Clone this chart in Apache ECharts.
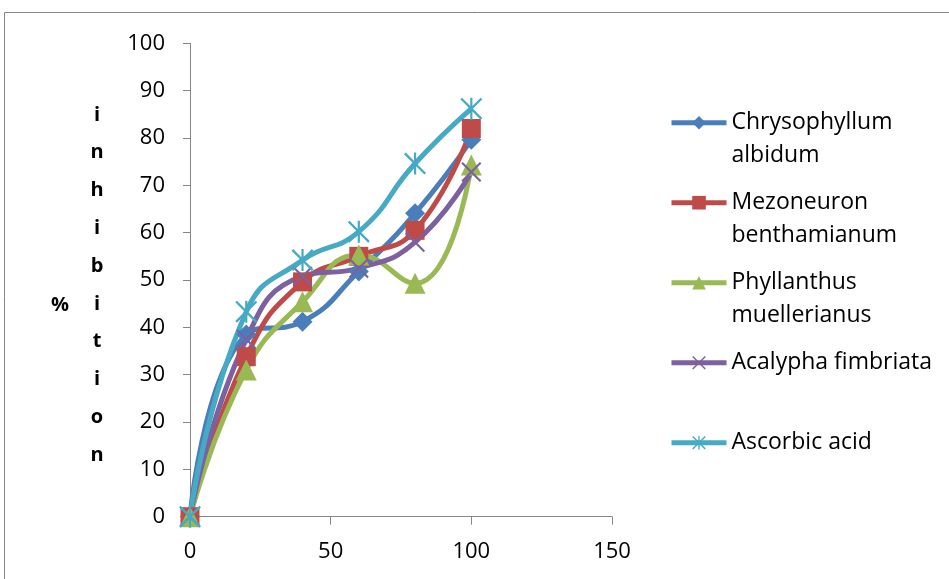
<!DOCTYPE html>
<html>
<head>
<meta charset="utf-8">
<script src="https://cdn.jsdelivr.net/npm/echarts@6/dist/echarts.min.js"></script>
<style>
html,body{margin:0;padding:0;background:#fff;}
#chart{width:949px;height:579px;}
</style>
</head>
<body>
<div id="chart"></div>
<script>
// ---- data ----
const concentrations = [0, 20, 40, 60, 80, 100];
const seriesNames = ['Chrysophyllum albidum', 'Mezoneuron benthamianum', 'Phyllanthus muellerianus', 'Acalypha fimbriata', 'Ascorbic acid'];
const legendLabels = [' \nChrysophyllum\nalbidum', ' \nMezoneuron\nbenthamianum', ' \nPhyllanthus\nmuellerianus', ' \nAcalypha fimbriata\n ', ' \nAscorbic acid\n '];
const chrysophyllum = [0, 38.5, 41.2, 51.8, 64.1, 79.6];
const mezoneuron = [0, 33.8, 49.6, 55.0, 60.5, 82.0];
const phyllanthus = [0, 31.0, 45.4, 55.3, 49.3, 74.3];
const acalypha = [0, 37.5, 50.8, 52.5, 58.0, 72.8];
const ascorbic = [0, 43.3, 54.2, 60.2, 74.6, 86.2];
const xTicks = [0, 50, 100, 150];
const yTicks = [0, 10, 20, 30, 40, 50, 60, 70, 80, 90, 100];
const yTitleLetters = ['i','n','h','i','b','i','t','i','o','n'];

const colors = ['#4a7ebb', '#be4b48', '#98b954', '#7d60a0', '#46aac5'];
const xPath = 'path://M0,1.5 L1.5,0 L20,18.5 L18.5,20 Z M18.5,0 L20,1.5 L1.5,20 L0,18.5 Z';
const starPath = 'path://M0,1.5 L1.5,0 L20,18.5 L18.5,20 Z M18.5,0 L20,1.5 L1.5,20 L0,18.5 Z M9,0 L11,0 L11,20 L9,20 Z';
const symbols = ['diamond', 'rect', 'triangle', xPath, starPath];
const symbolSizes = [20, 19, 21, 20, 22];
const values = [chrysophyllum, mezoneuron, phyllanthus, acalypha, ascorbic];

const FONT = '"Open Sans", sans-serif';
const LH = 32.5;

const chart = echarts.init(document.getElementById('chart'), null, {renderer: 'canvas'});

const series = seriesNames.map((name, i) => ({
  name: name,
  type: 'line',
  smooth: 0.5,
  data: concentrations.map((x, j) => [x, values[i][j]]),
  symbol: symbols[i],
  symbolSize: symbolSizes[i],
  showSymbol: true,
  lineStyle: {color: colors[i], width: 5},
  itemStyle: {color: colors[i], borderWidth: 0},
  emphasis: {disabled: true},
  animation: false
}));

const option = {
  animation: false,
  color: colors,
  grid: {left: 190, right: 337, top: 43.3, bottom: 62.3, containLabel: false},
  xAxis: {
    type: 'value', min: 0, max: 150, interval: 50,
    splitLine: {show: false},
    axisLine: {show: true, onZero: false, lineStyle: {color: '#868686', width: 1}},
    axisTick: {show: true, length: 8, lineStyle: {color: '#868686'}},
    axisLabel: {color: '#000', fontFamily: FONT, fontSize: 22, margin: 24,
      formatter: v => xTicks.indexOf(v) >= 0 ? String(v) : ''}
  },
  yAxis: {
    type: 'value', min: 0, max: 100, interval: 10,
    splitLine: {show: false},
    axisLine: {show: true, lineStyle: {color: '#868686', width: 1}},
    axisTick: {show: true, length: 7, lineStyle: {color: '#868686'}},
    axisLabel: {color: '#000', fontFamily: FONT, fontSize: 22, margin: 25,
      formatter: v => yTicks.indexOf(v) >= 0 ? String(v) : ''}
  },
  legend: {
    orient: 'vertical',
    left: 669,
    top: 122.7 - 1.5 * LH,
    padding: 0,
    itemGap: 80 - 3 * LH,
    itemWidth: 55,
    itemHeight: 17,
    data: seriesNames,
    lineStyle: {width: 5},
    formatter: name => legendLabels[seriesNames.indexOf(name)],
    textStyle: {color: '#000', fontFamily: FONT, fontSize: 23, lineHeight: LH}
  },
  graphic: [
    {type: 'rect', silent: true, shape: {x: 4.5, y: 12.5, width: 1000, height: 700},
      style: {fill: 'none', stroke: '#868686', lineWidth: 1}},
    {type: 'text', silent: true, x: 60, y: 305,
      style: {text: '%', fontFamily: FONT, fontWeight: 'bold', fontSize: 20, fill: '#000',
        align: 'center', verticalAlign: 'middle'}},
    {type: 'text', silent: true, x: 97, y: 285,
      style: {text: yTitleLetters.join('\n'), fontFamily: FONT, fontWeight: 'bold', fontSize: 20,
        lineHeight: 37.8, fill: '#000', align: 'center', verticalAlign: 'middle'}}
  ],
  series: series
};
chart.setOption(option);
</script>
</body>
</html>
